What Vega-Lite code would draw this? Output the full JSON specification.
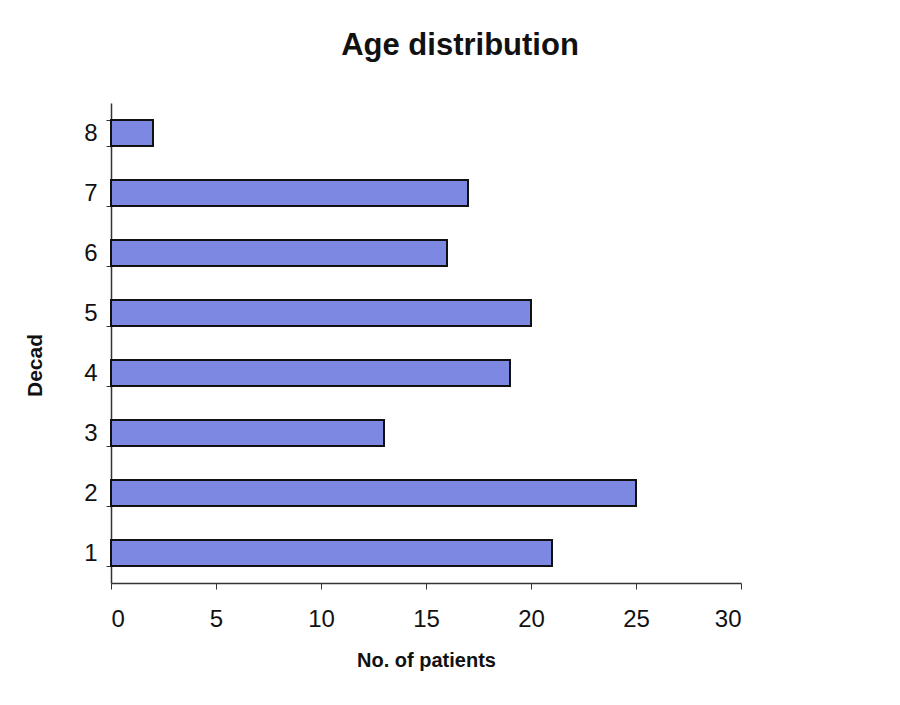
{
  "$schema": "https://vega.github.io/schema/vega-lite/v6.json",
  "width": 630,
  "height": 480,
  "autosize": "none",
  "padding": {"left": 111, "top": 103, "right": 159, "bottom": 122},
  "background": "white",
  "title": {
    "text": "Age distribution",
    "font": "Liberation Sans",
    "fontSize": 31,
    "fontWeight": "bold",
    "letterSpacing": -2,
    "color": "#111111",
    "anchor": "middle",
    "dx": 34,
    "offset": 29
  },
  "data": {
    "values": [
      {"decade": "1", "patients": 21},
      {"decade": "2", "patients": 25},
      {"decade": "3", "patients": 13},
      {"decade": "4", "patients": 19},
      {"decade": "5", "patients": 20},
      {"decade": "6", "patients": 16},
      {"decade": "7", "patients": 17},
      {"decade": "8", "patients": 2}
    ]
  },
  "mark": {"type": "bar", "color": "#7d88e2", "stroke": "#111111", "strokeWidth": 2},
  "encoding": {
    "y": {
      "field": "decade",
      "type": "nominal",
      "sort": "descending",
      "scale": {"paddingInner": 0.57, "paddingOuter": 0.285},
      "axis": {
        "title": "Decad",
        "titleFont": "Liberation Sans",
        "titleFontSize": 21,
        "titleFontWeight": "bold",
        "titleColor": "#111111",
        "titleX": -66,
        "titleY": 262,
        "titleAngle": -90,
        "titleLetterSpacing": -1.5,
        "labelFont": "Liberation Sans",
        "labelFontSize": 24,
        "labelColor": "#111111",
        "labelPadding": 9,
        "labelAngle": 0,
        "tickBand": "extent",
        "tickSize": 5,
        "tickColor": "#333333",
        "domainColor": "#333333",
        "domainWidth": 1.5
      }
    },
    "x": {
      "field": "patients",
      "type": "quantitative",
      "scale": {"domain": [0, 30], "nice": false},
      "axis": {
        "title": "No. of patients",
        "titleFont": "Liberation Sans",
        "titleFontSize": 20,
        "titleFontWeight": "bold",
        "titleColor": "#111111",
        "titleLetterSpacing": -2.5,
        "titlePadding": 19,
        "labelFont": "Liberation Sans",
        "labelFontSize": 24,
        "labelColor": "#111111",
        "labelPadding": 18,
        "values": [0, 5, 10, 15, 20, 25, 30],
        "grid": false,
        "tickSize": 6,
        "tickColor": "#333333",
        "domainColor": "#333333",
        "domainWidth": 1.5
      }
    }
  },
  "config": {"view": {"stroke": null}}
}
